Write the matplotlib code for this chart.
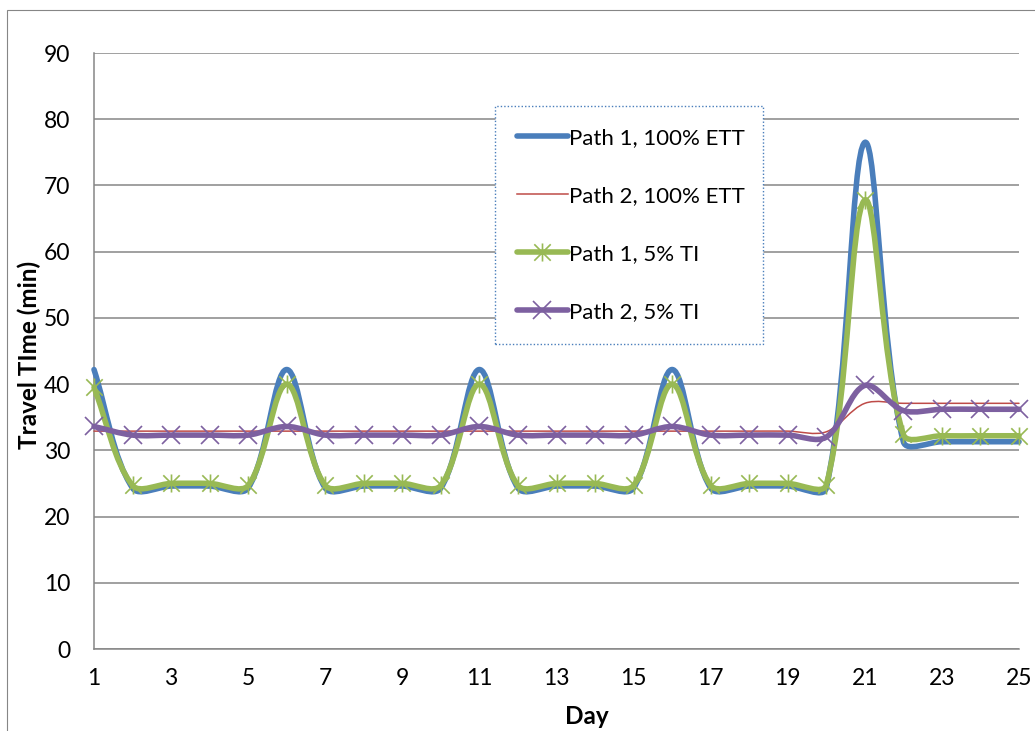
import numpy as np
import matplotlib.pyplot as plt
from matplotlib.path import Path
from matplotlib.patches import PathPatch, Rectangle
from matplotlib.lines import Line2D

plt.rcParams['font.family'] = ['Lato', 'DejaVu Sans']

days = list(range(1, 26))
path1_ett = [42.2, 24.3, 24.6, 24.6, 24.3, 42.2, 24.3, 24.6, 24.6, 24.3,
             42.2, 24.3, 24.6, 24.6, 24.3, 42.2, 24.3, 24.6, 24.6, 24.3,
             76.5, 31.3, 31.3, 31.3, 31.3]
path2_ett = [32.9, 32.9, 32.9, 32.9, 32.9, 32.9, 32.9, 32.9, 32.9, 32.9,
             32.9, 32.9, 32.9, 32.9, 32.9, 32.9, 32.9, 32.9, 32.9, 32.8,
             37.1, 37.1, 37.1, 37.1, 37.1]
path1_ti = [39.5, 24.7, 25.0, 25.0, 24.7, 40.0, 24.7, 25.0, 25.0, 24.7,
            40.0, 24.7, 25.0, 25.0, 24.7, 40.0, 24.7, 25.0, 25.0, 24.8,
            67.8, 32.4, 32.2, 32.2, 32.2]
path2_ti = [33.6, 32.3, 32.3, 32.3, 32.3, 33.6, 32.3, 32.3, 32.3, 32.3,
            33.6, 32.3, 32.3, 32.3, 32.3, 33.6, 32.3, 32.3, 32.3, 32.0,
            39.8, 36.0, 36.2, 36.2, 36.2]
labels = ["Path 1, 100% ETT", "Path 2, 100% ETT", "Path 1, 5% TI", "Path 2, 5% TI"]

blue = "#4a7ebb"
red = "#be4b48"
green = "#98b954"
purple = "#7d60a0"
grey = "#868686"

# excel-like star marker: an x with a vertical bar
star = Path([(-1, -1), (1, 1), (-1, 1), (1, -1), (0, -1.1), (0, 1.1)],
            [Path.MOVETO, Path.LINETO, Path.MOVETO, Path.LINETO, Path.MOVETO, Path.LINETO])


def smooth_path(ax, xs, ys):
    # bezier smoothing done in screen space, like excel's smoothed lines
    pts = ax.transData.transform(np.column_stack([xs, ys]))
    n = len(pts)
    d = np.hypot(*np.diff(pts, axis=0).T)
    verts = [pts[0]]
    codes = [Path.MOVETO]
    for i in range(n - 1):
        p0, p1 = pts[i], pts[i + 1]
        prev = pts[i - 1] if i > 0 else pts[i]
        nxt = pts[i + 2] if i + 2 < n else pts[i + 1]
        d_prev = d[i - 1] if i > 0 else 0
        d_next = d[i + 1] if i + 2 < n else 0
        c1 = p0 + (p1 - prev) * d[i] / (d_prev + d[i]) / 3
        c2 = p1 - (nxt - p0) * d[i] / (d[i] + d_next) / 3
        verts += [c1, c2, p1]
        codes += [Path.CURVE4] * 3
    verts = ax.transData.inverted().transform(np.array(verts))
    return Path(verts, codes)


fig = plt.figure(figsize=(10.35, 7.31), dpi=100)
ax = fig.add_axes([94 / 1035, 1 - 649 / 731, 925 / 1035, 596 / 731])
ax.set_xlim(1, 25)
ax.set_ylim(0, 90)

series = [(path1_ett, blue, 4.0), (path2_ett, red, 1.1),
          (path1_ti, green, 4.0), (path2_ti, purple, 4.0)]
for k, (vals, col, lw) in enumerate(series):
    p = smooth_path(ax, days, vals)
    ax.add_patch(PathPatch(p, fill=False, edgecolor=col, lw=lw, capstyle='round',
                           joinstyle='round', zorder=3 + k, clip_on=False))

ax.plot(days, path1_ti, linestyle='none', marker=star, ms=13, mec=green, mfc='none',
        mew=1.2, zorder=5.5, clip_on=False)
ax.plot(days, path2_ti, linestyle='none', marker='x', ms=13, mec=purple,
        mew=1.2, zorder=6.5, clip_on=False)

ax.set_xticks(days[::2])
ax.set_yticks(range(0, 91, 10))
ax.tick_params(length=0, labelsize=16.5)
ax.tick_params(axis='y', pad=17)
ax.tick_params(axis='x', pad=14)
ax.yaxis.grid(True, color=grey, lw=1.1)
ax.set_axisbelow(True)
for s in ['top', 'right']:
    ax.spines[s].set_visible(False)
for s in ['left', 'bottom']:
    ax.spines[s].set_color(grey)
    ax.spines[s].set_linewidth(1.1)

handles = [Line2D([], [], color=blue, lw=4.0, solid_capstyle='round'),
           Line2D([], [], color=red, lw=1.1),
           Line2D([], [], color=green, lw=4.0, solid_capstyle='round', marker=star,
                  ms=13, mec=green, mfc='none', mew=1.2),
           Line2D([], [], color=purple, lw=4.0, solid_capstyle='round', marker='x',
                  ms=13, mec=purple, mew=1.2)]
leg = ax.legend(handles, labels, loc='upper left', mode='expand',
                bbox_to_anchor=(0.4335, 0.518, 0.2897, 0.393),
                frameon=True, fancybox=False, edgecolor=blue, framealpha=1,
                fontsize=16, handlelength=2.3, handletextpad=0.05,
                labelspacing=1.72, borderpad=0.97, borderaxespad=0)
leg.get_frame().set_linestyle((0, (1, 1.5)))
leg.get_frame().set_linewidth(1.0)

fig.text(587 / 1035, 1 - 717 / 731, "Day", ha='center', va='center',
         fontweight='bold', fontsize=17.5)
fig.text(29 / 1035, 1 - 355 / 731, "Travel TIme (min)", rotation=90, ha='center',
         va='center', fontweight='bold', fontsize=17.5)

fig.patches.append(Rectangle((7 / 1035, -0.1), 1.2, 1.1 - 10 / 731, transform=fig.transFigure,
                             fill=False, ec=grey, lw=0.8))

fig.savefig('out.png', dpi=100)
